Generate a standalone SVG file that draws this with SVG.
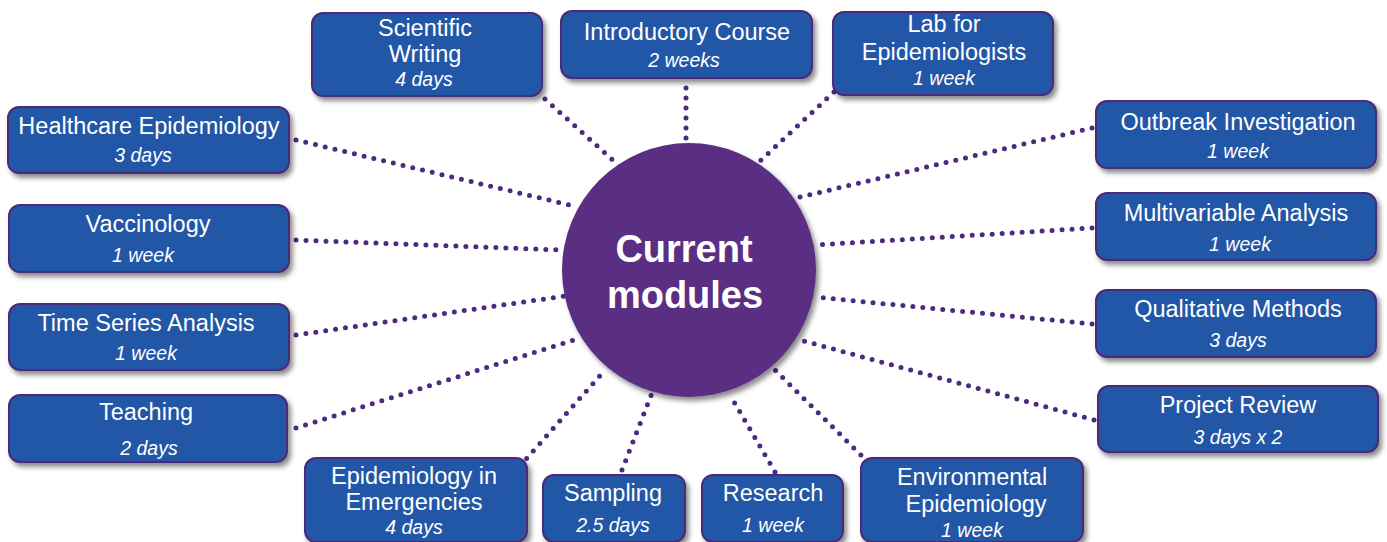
<svg xmlns="http://www.w3.org/2000/svg" width="1387" height="542" viewBox="0 0 1387 542">
<defs>
<filter id="sh" x="-10%" y="-20%" width="125%" height="150%">
<feDropShadow dx="3" dy="4" stdDeviation="2.5" flood-color="#000" flood-opacity="0.45"/>
</filter>
<style>
.box{fill:#2456a6;stroke:#4b2a78;stroke-width:2;filter:url(#sh)}
.t{font-family:"Liberation Sans",Arial,sans-serif;font-size:23.5px;fill:#fff;text-anchor:middle}
.s{font-family:"Liberation Sans",Arial,sans-serif;font-size:19.5px;font-style:italic;fill:#fff;text-anchor:middle}
.c{font-family:"Liberation Sans",Arial,sans-serif;font-size:38px;font-weight:bold;fill:#fff;text-anchor:middle}
.con line{stroke:#4b2a80;stroke-width:5;stroke-linecap:round;stroke-dasharray:0 10;fill:none}
</style>
</defs>
<rect width="1387" height="542" fill="#fff"/>
<g id="connectors" class="con">
<line x1="545" y1="99" x2="616" y2="163"/>
<line x1="686" y1="88" x2="686" y2="140"/>
<line x1="834" y1="92" x2="760" y2="161"/>
<line x1="296" y1="140" x2="578" y2="207"/>
<line x1="296" y1="240" x2="560" y2="250"/>
<line x1="296" y1="335" x2="565" y2="296"/>
<line x1="296" y1="428" x2="580" y2="338"/>
<line x1="1092" y1="128" x2="796" y2="198"/>
<line x1="1092" y1="228" x2="815" y2="245"/>
<line x1="1092" y1="324" x2="815" y2="297"/>
<line x1="1094" y1="420" x2="800" y2="340"/>
<line x1="520" y1="466" x2="605" y2="370"/>
<line x1="622" y1="470" x2="652" y2="393"/>
<line x1="775" y1="472" x2="730" y2="395"/>
<line x1="868" y1="462" x2="775" y2="370"/>
</g>
<g id="center">
<circle cx="689" cy="270" r="127" fill="#5a2d82" filter="url(#sh)"/>
<text class="c" x="684" y="262">Current</text>
<text class="c" x="685" y="308">modules</text>
</g>
<g id="scientific-writing">
<rect class="box" x="312" y="13" width="230" height="83" rx="11"/>
<text class="t" x="425" y="36">Scientific</text>
<text class="t" x="425" y="62">Writing</text>
<text class="s" x="424" y="86">4 days</text>
</g>
<g id="introductory-course">
<rect class="box" x="561" y="11" width="251" height="67" rx="11"/>
<text class="t" x="687" y="40">Introductory Course</text>
<text class="s" x="684" y="67">2 weeks</text>
</g>
<g id="lab-for-epidemiologists">
<rect class="box" x="833" y="12" width="220" height="83" rx="11"/>
<text class="t" x="944" y="32">Lab for</text>
<text class="t" x="944" y="60">Epidemiologists</text>
<text class="s" x="944" y="85">1 week</text>
</g>
<g id="healthcare-epidemiology">
<rect class="box" x="8" y="107" width="281" height="66" rx="11"/>
<text class="t" x="149" y="134">Healthcare Epidemiology</text>
<text class="s" x="143" y="162">3 days</text>
</g>
<g id="vaccinology">
<rect class="box" x="9" y="205" width="280" height="67" rx="11"/>
<text class="t" x="148" y="232">Vaccinology</text>
<text class="s" x="143" y="262">1 week</text>
</g>
<g id="time-series-analysis">
<rect class="box" x="9" y="304" width="280" height="66" rx="11"/>
<text class="t" x="146" y="331">Time Series Analysis</text>
<text class="s" x="146" y="360">1 week</text>
</g>
<g id="teaching">
<rect class="box" x="9" y="395" width="278" height="67" rx="11"/>
<text class="t" x="146" y="420">Teaching</text>
<text class="s" x="149" y="455">2 days</text>
</g>
<g id="outbreak-investigation">
<rect class="box" x="1096" y="101" width="280" height="67" rx="11"/>
<text class="t" x="1238" y="130">Outbreak Investigation</text>
<text class="s" x="1238" y="158">1 week</text>
</g>
<g id="multivariable-analysis">
<rect class="box" x="1096" y="193" width="280" height="67" rx="11"/>
<text class="t" x="1236" y="221">Multivariable Analysis</text>
<text class="s" x="1240" y="251">1 week</text>
</g>
<g id="qualitative-methods">
<rect class="box" x="1096" y="290" width="280" height="67" rx="11"/>
<text class="t" x="1238" y="317">Qualitative Methods</text>
<text class="s" x="1238" y="347">3 days</text>
</g>
<g id="project-review">
<rect class="box" x="1098" y="386" width="280" height="66" rx="11"/>
<text class="t" x="1238" y="413">Project Review</text>
<text class="s" x="1238" y="444">3 days x 2</text>
</g>
<g id="epidemiology-in-emergencies">
<rect class="box" x="305" y="458" width="222" height="84" rx="11"/>
<text class="t" x="414" y="484">Epidemiology in</text>
<text class="t" x="414" y="510">Emergencies</text>
<text class="s" x="414" y="534">4 days</text>
</g>
<g id="sampling">
<rect class="box" x="543" y="475" width="142" height="67" rx="11"/>
<text class="t" x="613" y="501">Sampling</text>
<text class="s" x="613" y="532">2.5 days</text>
</g>
<g id="research">
<rect class="box" x="702" y="475" width="141" height="67" rx="11"/>
<text class="t" x="773" y="501">Research</text>
<text class="s" x="773" y="532">1 week</text>
</g>
<g id="environmental-epidemiology">
<rect class="box" x="861" y="458" width="222" height="84" rx="11"/>
<text class="t" x="972" y="485">Environmental</text>
<text class="t" x="976" y="512">Epidemiology</text>
<text class="s" x="972" y="537">1 week</text>
</g>
</svg>
